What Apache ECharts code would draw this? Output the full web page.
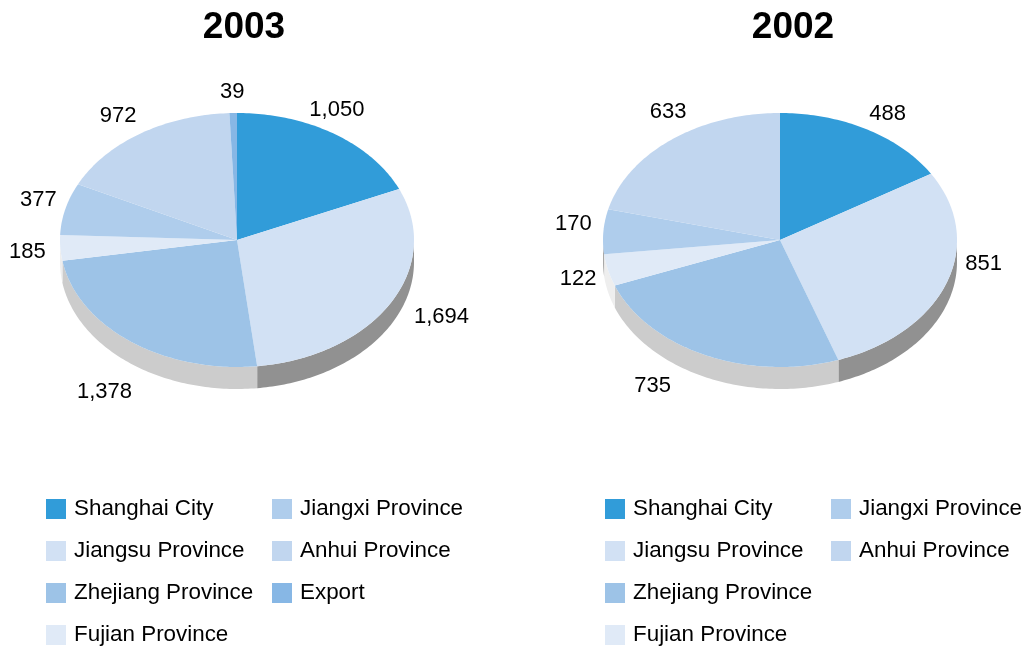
<!DOCTYPE html>
<html>
<head>
<meta charset="utf-8">
<style>
	html, body { margin: 0; padding: 0; background: #fff; }
	#main { width: 1026px; height: 650px; }
</style>
<script src="https://cdn.jsdelivr.net/npm/echarts@6/dist/echarts.min.js"></script>
</head>
<body>
<div id="main"></div>
<script>
var categories  = ['Shanghai City', 'Jiangsu Province', 'Zhejiang Province', 'Fujian Province', 'Jiangxi Province', 'Anhui Province', 'Export'];
var values2003  = [1050, 1694, 1378, 185, 377, 972, 39];
var values2002  = [488, 851, 735, 122, 170, 633];
var titles      = ['2003', '2002'];

var topColors   = ['#319cd9', '#d2e1f4', '#9dc3e7', '#e0eaf7', '#afcdec', '#c1d6ef', '#87b7e5'];
var wallColors  = ['#7a7a7a', '#919191', '#cccccc', '#eeeeee', '#a8a8a8', '#bbbbbb', '#999999'];

//label shift from the middle of the slice edge
var labelShift2003 = [[3, -24], [51, 14], [-26, 51], [-33, 4], [-27, -9], [-22, -18], [-1, -21]];
var labelShift2002 = [[21, -15], [37, -19], [-53, 31], [-30, 9], [-30, -8], [-3, -28]];

var FONT = '"Liberation Sans", Arial, sans-serif';
var RX = 177, RY = 127, DEPTH = 22, CY = 240;

var pies = [
	{values: values2003, cx: 237, titleX: 244, legendX: [46, 272], shift: labelShift2003},
	{values: values2002, cx: 780, titleX: 793, legendX: [605, 831], shift: labelShift2002}
];

function edgePoint(pie, deg, dy) {
	var rad = deg * Math.PI / 180;
	return [pie.cx + RX * Math.sin(rad), CY - RY * Math.cos(rad) + dy];
}

function arc(pie, from, to, dy) {
	var pts = [];
	var n = Math.max(1, Math.ceil(Math.abs(to - from)));
	for (var i = 0; i <= n; i++) {
		pts.push(edgePoint(pie, from + (to - from) * i / n, dy));
	}
	return pts;
}

function sliceRenderer(pie, idx) {
	return function(params, api) {
		var total = 0, before = 0;
		for (var i = 0; i < pie.values.length; i++) {
			total += pie.values[i];
			if (i < idx) before += pie.values[i];
		}
		var val = api.value(0);
		var a0 = before / total * 360;
		var a1 = (before + val) / total * 360;
		var mid = (a0 + a1) / 2;
		var children = [];

		//side wall, only the front half of the disc shows it
		var w0 = Math.max(a0, 90), w1 = Math.min(a1, 270);
		if (w1 > w0) {
			children.push({
				type: 'polygon',
				shape: {points: arc(pie, w0, w1, 0).concat(arc(pie, w1, w0, DEPTH))},
				style: {fill: wallColors[idx]}
			});
		}

		children.push({
			type: 'polygon',
			shape: {points: [[pie.cx, CY]].concat(arc(pie, a0, a1, 0))},
			style: {fill: topColors[idx]}
		});

		var anchor = edgePoint(pie, mid, 0);
		children.push({
			type: 'text',
			style: {
				text: val.toLocaleString('en-US'),
				x: anchor[0] + pie.shift[idx][0],
				y: anchor[1] + pie.shift[idx][1],
				align: 'center',
				verticalAlign: 'middle',
				fill: '#000',
				font: '22px ' + FONT
			}
		});

		return {type: 'group', children: children};
	};
}

var series = [];
var legends = [];
var titleOpts = [];

pies.forEach(function(pie, p) {
	titleOpts.push({
		text: titles[p],
		left: pie.titleX,
		top: 9,
		textAlign: 'center',
		padding: 0,
		textStyle: {fontFamily: FONT, fontSize: 37, fontWeight: 'bold', color: '#000'}
	});

	pie.values.forEach(function(v, i) {
		series.push({
			type: 'custom',
			name: categories[i],
			coordinateSystem: 'none',
			silent: true,
			itemStyle: {color: topColors[i]},
			data: [[v]],
			renderItem: sliceRenderer(pie, i)
		});
	});

	//two legend columns per pie
	var names = categories.slice(0, pie.values.length);
	[names.slice(0, 4), names.slice(4)].forEach(function(col, c) {
		legends.push({
			data: col,
			orient: 'vertical',
			left: pie.legendX[c],
			top: 498,
			padding: 0,
			itemWidth: 20,
			itemHeight: 20,
			itemGap: 20,
			icon: 'rect',
			selectedMode: false,
			textStyle: {fontFamily: FONT, fontSize: 22.4, lineHeight: 20, color: '#000', padding: [2, 0, 0, 3]}
		});
	});
});

var myChart = echarts.init(document.getElementById('main'), null, {renderer: 'canvas'});
myChart.setOption({
	animation: false,
	backgroundColor: '#fff',
	title: titleOpts,
	legend: legends,
	series: series
});
</script>
</body>
</html>
